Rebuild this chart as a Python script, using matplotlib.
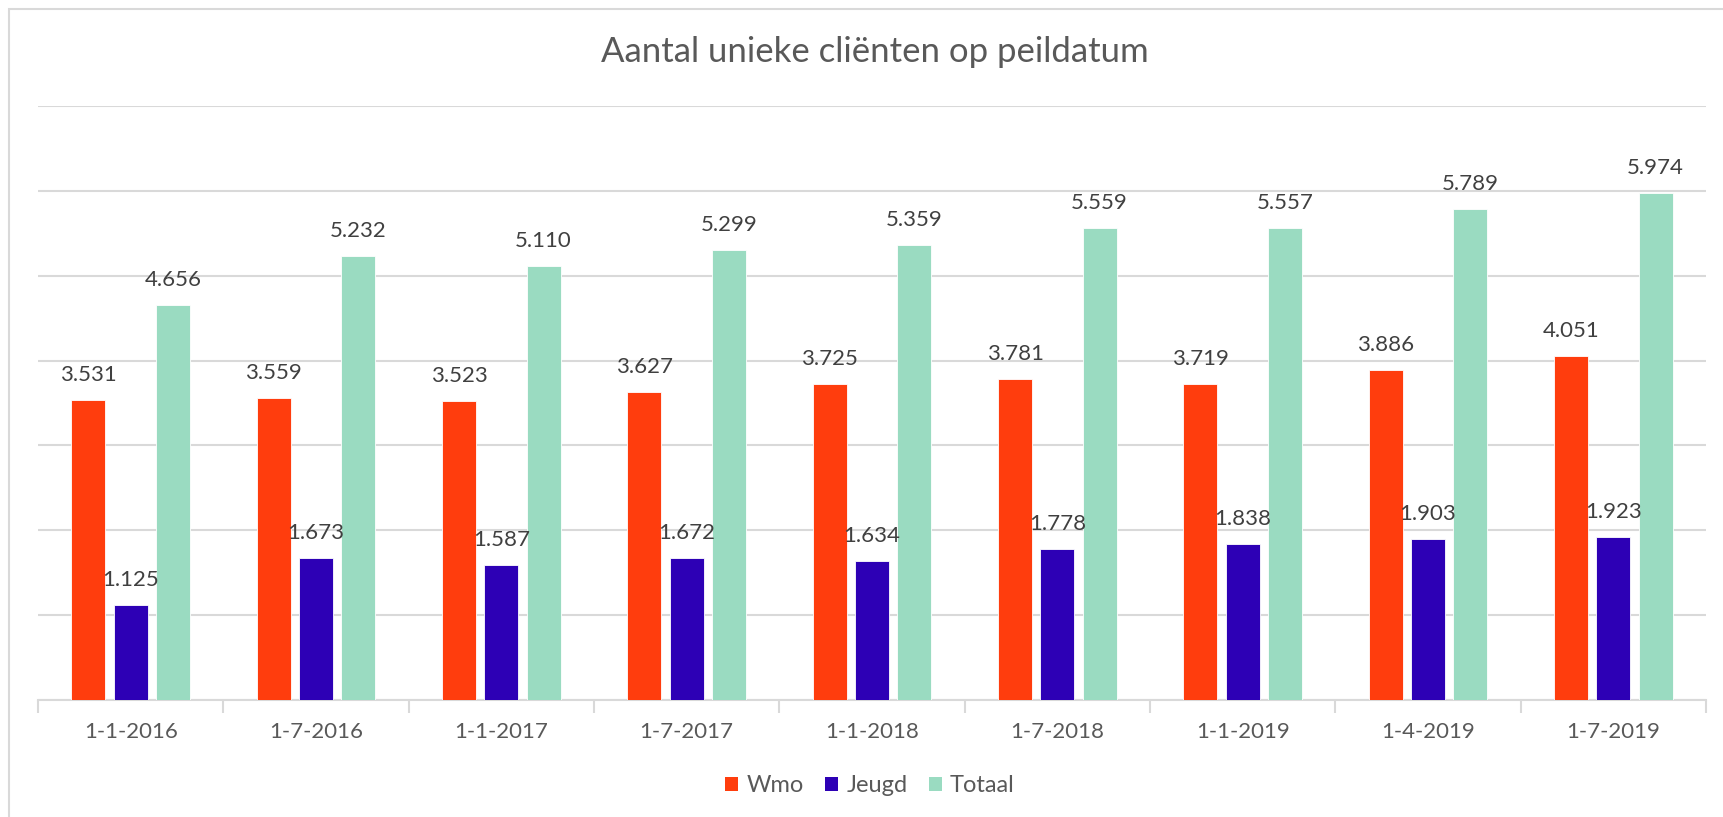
import matplotlib
matplotlib.use("Agg")
import matplotlib.pyplot as plt
import numpy as np
from matplotlib.patches import Rectangle, Patch

categories = ["1-1-2016", "1-7-2016", "1-1-2017", "1-7-2017", "1-1-2018",
              "1-7-2018", "1-1-2019", "1-4-2019", "1-7-2019"]
wmo = [3531, 3559, 3523, 3627, 3725, 3781, 3719, 3886, 4051]
jeugd = [1125, 1673, 1587, 1672, 1634, 1778, 1838, 1903, 1923]
totaal = [4656, 5232, 5110, 5299, 5359, 5559, 5557, 5789, 5974]
series_names = ["Wmo", "Jeugd", "Totaal"]
colors = ["#FF3D0D", "#2D00B5", "#9ADBC1"]
title = "Aantal unieke cliënten op peildatum"

plt.rcParams['font.family'] = ['Lato', 'DejaVu Sans']
W, H = 1723, 817
fig = plt.figure(figsize=(W / 100, H / 100), dpi=100)

# chart border (top/left visible)
fig.patches.append(Rectangle((9 / W, -0.1), 1.2, 1 - 9 / H + 0.1, transform=fig.transFigure,
                             fill=False, edgecolor="#D9D9D9", linewidth=1.5, zorder=0))

ax = fig.add_axes([38 / W, 1 - 700 / H, (1706 - 38) / W, (700 - 106) / H])
x = np.arange(len(categories))
bw = 0.183
offs = [-0.228, 0.0, 0.228]
data = [wmo, jeugd, totaal]
for d, o, c, n in zip(data, offs, colors, series_names):
    ax.bar(x + o, d, width=bw, color=c, edgecolor="white", linewidth=0.6, zorder=3, label=n)
    for xi, v in zip(x + o, d):
        ax.annotate(f"{v/1000:.3f}", (xi, v), xytext=(0, 18), textcoords="offset points",
                    ha="center", va="center", fontsize=16, color="#404040", zorder=4)

ax.set_ylim(0, 7000)
ax.set_xlim(-0.5, len(categories) - 0.5)
ax.set_yticks(np.arange(0, 7001, 1000))
ax.yaxis.grid(True, color="#D9D9D9", linewidth=1.5, zorder=0)
ax.set_axisbelow(True)
ax.tick_params(axis="y", left=False, labelleft=False)
for s in ["top", "right", "left"]:
    ax.spines[s].set_visible(False)
ax.spines["bottom"].set_color("#D9D9D9")
ax.spines["bottom"].set_linewidth(1.5)

ax.set_xticks(x)
ax.set_xticklabels(categories, fontsize=16, color="#595959")
ax.tick_params(axis="x", which="major", length=0, pad=16)
ax.set_xticks(np.arange(-0.5, len(categories)), minor=True)
ax.tick_params(axis="x", which="minor", length=9, width=1.5, color="#D9D9D9")

fig.text(875 / W, 1 - 52 / H, title, ha="center", va="center", fontsize=25, color="#595959")

handles = [Patch(facecolor=c, edgecolor="none") for c in colors]
fig.legend(handles, series_names, loc="center", bbox_to_anchor=(870 / W, 1 - 786 / H),
           ncol=3, frameon=False, fontsize=17, handlelength=0.55, handleheight=0.55,
           handletextpad=0.35, columnspacing=0.9, labelcolor="#595959")

fig.savefig("out.png", dpi=100)
